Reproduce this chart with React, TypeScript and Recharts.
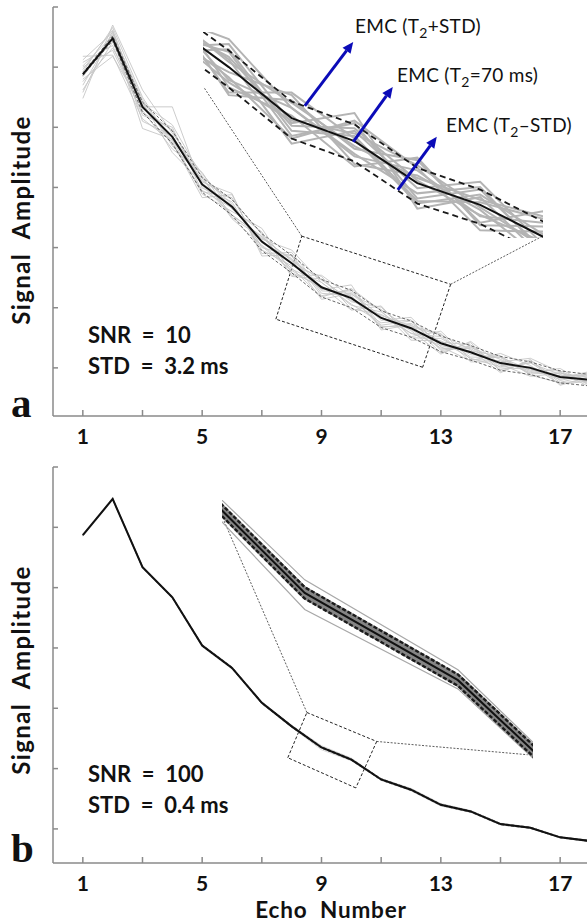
import { LineChart, Line, XAxis, YAxis, ReferenceLine } from 'recharts';

// echo numbers and axis ticks
const echoes = [1, 2, 3, 4, 5, 6, 7, 8, 9, 10, 11, 12, 13, 14, 15, 16, 17, 18];
const xTicks = [1, 3, 5, 7, 9, 11, 13, 15, 17];
const xLabels = [1, 5, 9, 13, 17];
const yTicks = [1, 2, 3, 4, 5, 6, 7];

// panel a: SNR = 10, STD = 3.2 ms
const emcA = [5.88, 6.48, 5.34, 4.84, 4.05, 3.68, 3.1, 2.74, 2.34, 2.16, 1.83, 1.66, 1.41, 1.26, 1.08, 1.0, 0.85, 0.8];
const emcPlusA = [5.9, 6.52, 5.42, 4.94, 4.16, 3.8, 3.23, 2.87, 2.47, 2.29, 1.95, 1.78, 1.53, 1.37, 1.19, 1.1, 0.95, 0.89];
const emcMinusA = [5.86, 6.44, 5.25, 4.73, 3.92, 3.54, 2.95, 2.58, 2.18, 2.0, 1.67, 1.51, 1.27, 1.13, 0.96, 0.89, 0.75, 0.7];
const noiseA = [
  [5.7, 6.56, 5.46, 4.69, 4.15, 3.54, 3.19, 2.64, 2.42, 2.04, 1.93, 1.57, 1.52, 1.18, 1.17, 0.9, 0.92, 0.74],
  [6.08, 6.36, 5.2, 5.0, 3.93, 3.83, 3.0, 2.86, 2.2, 2.3, 1.71, 1.78, 1.31, 1.36, 0.97, 1.09, 0.76, 0.88],
  [5.48, 6.7, 5.62, 4.9, 4.23, 3.64, 3.26, 2.52, 2.48, 2.1, 2.01, 1.52, 1.61, 1.14, 1.12, 0.92, 0.99, 0.7],
  [6.18, 6.2, 5.14, 4.76, 3.83, 3.88, 2.9, 2.92, 2.3, 2.38, 1.63, 1.72, 1.25, 1.42, 0.94, 1.12, 0.79, 0.9],
  [5.96, 6.62, 5.28, 4.64, 4.25, 3.5, 3.16, 2.8, 2.14, 2.24, 1.79, 1.84, 1.35, 1.12, 1.24, 1.04, 0.73, 0.78],
  [5.8, 6.18, 5.34, 5.34, 3.99, 3.76, 2.96, 2.7, 2.52, 1.98, 1.89, 1.62, 1.23, 1.44, 1.06, 0.86, 0.91, 0.84],
  [6.02, 6.52, 4.98, 4.8, 3.89, 3.6, 3.32, 2.58, 2.36, 1.96, 2.03, 1.5, 1.49, 1.22, 1.18, 0.96, 0.95, 0.72],
  [5.62, 6.42, 5.32, 4.94, 4.09, 3.9, 2.86, 2.88, 2.24, 2.2, 1.69, 1.68, 1.55, 1.3, 0.92, 1.14, 0.71, 0.86],
  [5.92, 6.66, 5.5, 4.72, 3.95, 3.66, 3.14, 2.96, 2.42, 2.06, 1.75, 1.8, 1.29, 1.34, 1.14, 0.94, 0.87, 0.88],
  [5.76, 6.32, 5.4, 5.04, 4.17, 3.48, 3.04, 2.66, 2.18, 2.32, 1.95, 1.46, 1.45, 1.16, 1.02, 1.08, 0.89, 0.76],
  [6.12, 6.58, 5.1, 4.86, 4.11, 3.8, 3.22, 2.54, 2.54, 2.18, 1.67, 1.74, 1.43, 1.38, 1.0, 0.98, 0.81, 0.92],
  [5.84, 6.5, 5.42, 4.58, 4.07, 3.7, 3.08, 2.82, 2.28, 2.26, 1.85, 1.58, 1.37, 1.28, 1.2, 0.88, 0.75, 0.8],
  [6.0, 6.28, 5.24, 4.96, 4.03, 3.54, 3.18, 2.78, 2.46, 2.12, 1.87, 1.7, 1.57, 1.1, 1.1, 1.16, 0.93, 0.68],
  [5.58, 6.6, 5.38, 4.78, 4.19, 3.72, 3.02, 2.62, 2.32, 2.22, 1.97, 1.64, 1.33, 1.32, 1.04, 1.02, 0.83, 0.94],
];

// panel b: SNR = 100, STD = 0.4 ms
const emcB = [5.87, 6.47, 5.34, 4.84, 4.04, 3.67, 3.09, 2.7, 2.35, 2.15, 1.82, 1.65, 1.4, 1.29, 1.08, 1.02, 0.86, 0.8];
const emcPlusB = [5.872, 6.475, 5.35, 4.852, 4.052, 3.683, 3.103, 2.713, 2.363, 2.163, 1.833, 1.662, 1.411, 1.301, 1.091, 1.03, 0.868, 0.808];
const emcMinusB = [5.868, 6.465, 5.33, 4.828, 4.028, 3.657, 3.077, 2.687, 2.337, 2.137, 1.807, 1.638, 1.389, 1.279, 1.069, 1.01, 0.852, 0.792];
const noiseB = [
  [5.88, 6.46, 5.35, 4.83, 4.05, 3.66, 3.1, 2.708, 2.359, 2.159, 1.827, 1.655, 1.405, 1.294, 1.085, 1.024, 0.864, 0.803],
  [5.86, 6.48, 5.33, 4.85, 4.03, 3.68, 3.08, 2.692, 2.341, 2.141, 1.813, 1.645, 1.395, 1.286, 1.075, 1.016, 0.856, 0.797],
  [5.875, 6.47, 5.345, 4.835, 4.045, 3.672, 3.095, 2.714, 2.346, 2.157, 1.822, 1.652, 1.403, 1.291, 1.082, 1.021, 0.861, 0.801],
  [5.865, 6.475, 5.338, 4.845, 4.036, 3.668, 3.086, 2.688, 2.355, 2.144, 1.817, 1.648, 1.398, 1.289, 1.078, 1.019, 0.858, 0.799],
];
const outliersB = [
  [5.89, 6.49, 5.36, 4.86, 4.06, 3.69, 3.11, 2.718, 2.38, 2.174, 1.834, 1.672, 1.42, 1.305, 1.095, 1.03, 0.87, 0.81],
  [5.85, 6.45, 5.32, 4.82, 4.02, 3.65, 3.07, 2.684, 2.312, 2.13, 1.806, 1.632, 1.38, 1.275, 1.065, 1.01, 0.85, 0.79],
];

// zoom boxes (echo, amplitude) and inset arrows
const boxA = [[8.34, 3.19], [13.33, 2.39], [12.39, 1.01], [7.47, 1.81]];
const linksA = [[[8.34, 3.19], [5.05, 5.67]], [[13.33, 2.39], [16.41, 3.19]]];
const boxB = [[8.51, 2.93], [10.85, 2.45], [10.15, 1.68], [7.87, 2.18]];
const linksB = [[[8.51, 2.93], [5.73, 6.11]], [[10.85, 2.45], [15.91, 2.23]]];
const arrowsA = [
  [[9.21, 2.436], [9.98, 2.937]],
  [[9.98, 2.154], [10.61, 2.584]],
  [[10.69, 1.778], [11.31, 2.193]],
];

const axisColor = '#8a8a8a';
const font = 'Lato, "Open Sans", sans-serif';

function buildRows(emc: number[], plus: number[], minus: number[], noise: number[][], extra: number[][] = []) {
  return echoes.map((e, i) => {
    const r: Record<string, number> = { echo: e, emc: emc[i], plus: plus[i], minus: minus[i] };
    noise.forEach((s, k) => (r[`n${k}`] = s[i]));
    extra.forEach((s, k) => (r[`o${k}`] = s[i]));
    return r;
  });
}

const rowsA = buildRows(emcA, emcPlusA, emcMinusA, noiseA);
const rowsB = buildRows(emcB, emcPlusB, emcMinusB, noiseB, outliersB);

function XTick(props: any) {
  const { x, y, payload } = props;
  if (!xLabels.includes(payload.value)) return <g />;
  return (
    <text x={x} y={y + 32} textAnchor="middle" fontFamily={font} fontWeight={700} fontSize={21} fill="#111">
      {payload.value}
    </text>
  );
}

function NoTick() {
  return <g />;
}

function Arrow(props: any) {
  const { x1, y1, x2, y2 } = props;
  const a = Math.atan2(y2 - y1, x2 - x1);
  const len = 11;
  const w = 5;
  const bx = x2 - len * Math.cos(a);
  const by = y2 - len * Math.sin(a);
  const px = -Math.sin(a) * w;
  const py = Math.cos(a) * w;
  return (
    <g>
      <line x1={x1} y1={y1} x2={bx} y2={by} stroke="#0b0bb8" strokeWidth={3} />
      <polygon points={`${x2},${y2} ${bx + px},${by + py} ${bx - px},${by - py}`} fill="#0b0bb8" />
    </g>
  );
}

function boxLines(box: number[][], links: number[][][]) {
  const out = box.map((p, i) => {
    const q = box[(i + 1) % box.length];
    return (
      <ReferenceLine
        key={`b${i}`}
        segment={[{ x: p[0], y: p[1] }, { x: q[0], y: q[1] }]}
        stroke="#222"
        strokeWidth={1}
        strokeDasharray="3 2"
        ifOverflow="visible"
      />
    );
  });
  links.forEach((l, i) =>
    out.push(
      <ReferenceLine
        key={`l${i}`}
        segment={[{ x: l[0][0], y: l[0][1] }, { x: l[1][0], y: l[1][1] }]}
        stroke="#333"
        strokeWidth={0.8}
        strokeDasharray="2 1.5"
        ifOverflow="visible"
      />
    )
  );
  return out;
}

function MainChart({ rows, yMin, noiseCount, outlierCount, noiseColor, box, links, height }: any) {
  return (
    <LineChart width={600} height={height} data={rows} margin={{ top: 7, right: 10, bottom: 0, left: 47 }}>
      <XAxis
        dataKey="echo"
        type="number"
        domain={[0, 18]}
        ticks={xTicks}
        interval={0}
        tickSize={-6}
        height={40}
        stroke={axisColor}
        strokeWidth={1.5}
        tick={<XTick />}
      />
      <YAxis
        type="number"
        domain={[yMin, 7]}
        ticks={yTicks}
        interval={0}
        width={6}
        tickSize={-5}
        stroke={axisColor}
        strokeWidth={1.5}
        tick={<NoTick />}
      />
      {boxLines(box, links)}
      {Array.from({ length: noiseCount }, (_, k) => (
        <Line key={`n${k}`} dataKey={`n${k}`} stroke={noiseColor} strokeWidth={0.9} dot={false} isAnimationActive={false} />
      ))}
      {Array.from({ length: outlierCount }, (_, k) => (
        <Line key={`o${k}`} dataKey={`o${k}`} stroke="#cfcfcf" strokeWidth={0.8} dot={false} isAnimationActive={false} />
      ))}
      <Line dataKey="plus" stroke="#555" strokeWidth={0.9} strokeDasharray="3 2" dot={false} isAnimationActive={false} />
      <Line dataKey="minus" stroke="#555" strokeWidth={0.9} strokeDasharray="3 2" dot={false} isAnimationActive={false} />
      <Line dataKey="emc" stroke="#111" strokeWidth={2} dot={false} isAnimationActive={false} />
    </LineChart>
  );
}

function InsetA() {
  return (
    <LineChart width={340} height={206} data={rowsA} margin={{ top: 0, right: 0, bottom: 0, left: 0 }}>
      <XAxis dataKey="echo" type="number" domain={[7.59, 13]} allowDataOverflow hide height={0} />
      <YAxis type="number" domain={[1.4, 3.015]} allowDataOverflow hide width={0} />
      {noiseA.map((_, k) => (
        <Line key={k} dataKey={`n${k}`} stroke="#b4b4b4" strokeWidth={2} dot={false} isAnimationActive={false} />
      ))}
      <Line dataKey="plus" stroke="#1a1a1a" strokeWidth={1.8} strokeDasharray="6 4" dot={false} isAnimationActive={false} />
      <Line dataKey="minus" stroke="#1a1a1a" strokeWidth={1.8} strokeDasharray="6 4" dot={false} isAnimationActive={false} />
      <Line dataKey="emc" stroke="#111" strokeWidth={2} dot={false} isAnimationActive={false} />
      {arrowsA.map((a, i) => (
        <ReferenceLine
          key={`a${i}`}
          segment={[{ x: a[0][0], y: a[0][1] }, { x: a[1][0], y: a[1][1] }]}
          ifOverflow="visible"
          shape={Arrow}
        />
      ))}
    </LineChart>
  );
}

function InsetB() {
  return (
    <LineChart width={311} height={260} data={rowsB} margin={{ top: 0, right: 0, bottom: 0, left: 0 }}>
      <XAxis dataKey="echo" type="number" domain={[8.46, 10.49]} allowDataOverflow hide height={0} />
      <YAxis type="number" domain={[1.967, 2.563]} allowDataOverflow hide width={0} />
      {outliersB.map((_, k) => (
        <Line key={`o${k}`} dataKey={`o${k}`} stroke="#a8a8a8" strokeWidth={1.2} dot={false} isAnimationActive={false} />
      ))}
      {noiseB.map((_, k) => (
        <Line key={k} dataKey={`n${k}`} stroke="#858585" strokeWidth={5} dot={false} isAnimationActive={false} />
      ))}
      <Line dataKey="plus" stroke="#1a1a1a" strokeWidth={2.4} strokeDasharray="4 2" dot={false} isAnimationActive={false} />
      <Line dataKey="minus" stroke="#1a1a1a" strokeWidth={2.4} strokeDasharray="4 2" dot={false} isAnimationActive={false} />
      <Line dataKey="emc" stroke="#111" strokeWidth={2} dot={false} isAnimationActive={false} />
    </LineChart>
  );
}

function EmcLabel({ x, y, rest }: { x: number; y: number; rest: string }) {
  return (
    <text x={x} y={y} fontFamily={font} fontWeight={400} fill="#111" fontSize={19} letterSpacing={0.3}>
      <tspan>EMC (T</tspan>
      <tspan fontSize={14} dy={5}>2</tspan>
      <tspan dy={-5}>{rest}</tspan>
    </text>
  );
}

export default function App() {
  const bold = { fontFamily: font, fontWeight: 700, fill: '#111' } as const;
  return (
    <div style={{ position: 'absolute', left: 0, top: 0, width: 587, height: 923, overflow: 'hidden', background: '#fff' }}>
      <div style={{ position: 'absolute', left: 0, top: 0 }}>
        <MainChart rows={rowsA} yMin={0.2} noiseCount={noiseA.length} outlierCount={0} noiseColor="#c6c6c6" box={boxA} links={linksA} height={456} />
      </div>
      <div style={{ position: 'absolute', left: 203, top: 32 }}>
        <InsetA />
      </div>
      <div style={{ position: 'absolute', left: 0, top: 460 }}>
        <MainChart rows={rowsB} yMin={0.435} noiseCount={noiseB.length} outlierCount={outliersB.length} noiseColor="#c4c4c4" box={boxB} links={linksB} height={443} />
      </div>
      <div style={{ position: 'absolute', left: 222, top: 500 }}>
        <InsetB />
      </div>
      <svg width={587} height={923} style={{ position: 'absolute', left: 0, top: 0, pointerEvents: 'none' }}>
        <text {...bold} fontSize={24} textAnchor="middle" transform="translate(30,220) rotate(-90)" letterSpacing={1.4} style={{ whiteSpace: 'pre' }}>
          Signal  Amplitude
        </text>
        <text {...bold} fontSize={24} textAnchor="middle" transform="translate(30,670) rotate(-90)" letterSpacing={1.4} style={{ whiteSpace: 'pre' }}>
          Signal  Amplitude
        </text>
        <text {...bold} fontSize={22} x={88} y={343} style={{ whiteSpace: 'pre' }}>SNR  =  10</text>
        <text {...bold} fontSize={22} x={88} y={374} style={{ whiteSpace: 'pre' }}>STD  =  3.2 ms</text>
        <text {...bold} fontSize={22} x={88} y={782} style={{ whiteSpace: 'pre' }}>SNR  =  100</text>
        <text {...bold} fontSize={22} x={88} y={813} style={{ whiteSpace: 'pre' }}>STD  =  0.4 ms</text>
        <text fontFamily='"Liberation Serif", "DejaVu Serif", serif' fontWeight={700} fontSize={41} x={11} y={417} fill="#111">a</text>
        <text fontFamily='"Liberation Serif", "DejaVu Serif", serif' fontWeight={700} fontSize={41} x={11} y={862} fill="#111">b</text>
        <text {...bold} fontSize={22.5} x={331} y={918} textAnchor="middle" letterSpacing={0.8} style={{ whiteSpace: 'pre' }}>Echo  Number</text>
        <EmcLabel x={355} y={33} rest="+STD)" />
        <EmcLabel x={397} y={82} rest="=70 ms)" />
        <EmcLabel x={446} y={132} rest="–STD)" />
      </svg>
    </div>
  );
}
